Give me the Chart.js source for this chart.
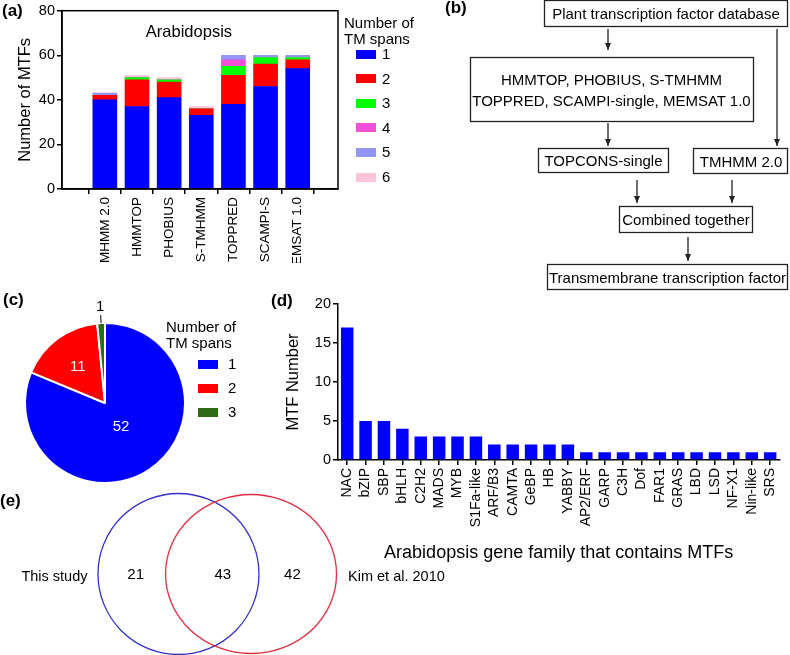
<!DOCTYPE html>
<html>
<head>
<meta charset="utf-8">
<script src="https://cdn.jsdelivr.net/npm/chart.js@4.4.0/dist/chart.umd.min.js"></script>
<style>
  body { margin: 0; background: #fff; font-family: "Liberation Sans", Arial, sans-serif; color: #000; }
  #fig { position: relative; width: 790px; height: 655px; overflow: hidden; }
  .abs { position: absolute; }
  .tag { position: absolute; font-weight: bold; font-size: 17px; line-height: 1; }
  .ltitle { position: absolute; font-size: 15px; line-height: 16px; white-space: nowrap; }
  .sw { position: absolute; width: 20px; height: 9px; }
  .lab { position: absolute; font-size: 15px; line-height: 1; }
</style>
</head>
<body>
<div id="fig">
  <canvas id="chartA" class="abs" width="345" height="263" style="left:0;top:0"></canvas>
  <canvas id="chartD" class="abs" width="510" height="280" style="left:280px;top:290px"></canvas>
  <canvas id="chartC" class="abs" width="180" height="200" style="left:15px;top:295px"></canvas>
  <canvas id="chartE" class="abs" width="460" height="174" style="left:0;top:487px"></canvas>

  <svg class="abs" style="left:0;top:0" width="790" height="300" font-family="Liberation Sans, Arial, sans-serif" font-size="15">
    <defs>
      <marker id="ah" markerWidth="8" markerHeight="8" refX="7" refY="4" orient="auto" markerUnits="userSpaceOnUse">
        <path d="M0,1 L7,4 L0,7 Z" fill="#222"/>
      </marker>
    </defs>
    <g fill="none" stroke="#222" stroke-width="1.3">
      <rect x="544.5" y="0.5" width="243" height="26"/>
      <rect x="470.5" y="57.5" width="283" height="64"/>
      <rect x="538.5" y="148.5" width="130" height="24"/>
      <rect x="693.5" y="148.5" width="94" height="25"/>
      <rect x="619.5" y="206.5" width="133" height="26"/>
      <rect x="547.5" y="264.5" width="240" height="25"/>
    </g>
    <g stroke="#222" stroke-width="1.3" marker-end="url(#ah)">
      <line x1="608" y1="29" x2="608" y2="50"/>
      <line x1="777" y1="29" x2="777" y2="146"/>
      <line x1="608" y1="123" x2="608" y2="146"/>
      <line x1="637" y1="180" x2="637" y2="203"/>
      <line x1="732" y1="180" x2="732" y2="203"/>
      <line x1="688" y1="237" x2="688" y2="261"/>
    </g>
    <g text-anchor="middle" dominant-baseline="central" fill="#000">
      <text x="666" y="13.5">Plant transcription factor database</text>
      <text x="611.5" y="79">HMMTOP, PHOBIUS, S-TMHMM</text>
      <text x="611.5" y="100.5">TOPPRED, SCAMPI-single, MEMSAT 1.0</text>
      <text x="603.5" y="160.5">TOPCONS-single</text>
      <text x="741" y="161">TMHMM 2.0</text>
      <text x="686" y="219.5">Combined together</text>
      <text x="667.5" y="277">Transmembrane transcription factor</text>
    </g>
  </svg>

  <div class="tag" style="left:2px;top:2px">(a)</div>
  <div class="tag" style="left:445px;top:-1px">(b)</div>
  <div class="tag" style="left:3px;top:291px">(c)</div>
  <div class="tag" style="left:271px;top:292px">(d)</div>
  <div class="tag" style="left:0;top:492px">(e)</div>

  <div class="ltitle" style="left:344px;top:15px">Number of<br>TM spans</div>
  <div class="ltitle" style="left:166px;top:319px">Number of<br>TM spans</div>
</div>

<script>
Chart.defaults.font.family = '"Liberation Sans", Arial, sans-serif';
Chart.defaults.color = '#000';
Chart.defaults.animation = false;
Chart.defaults.events = [];
Chart.defaults.plugins.legend.display = false;
Chart.defaults.plugins.tooltip.enabled = false;

// (a) predicted MTFs per tool, split by number of TM spans
let tools = ['TMHMM 2.0', 'HMMTOP', 'PHOBIUS', 'S-TMHMM', 'TOPPRED', 'SCAMPI-S', 'MEMSAT 1.0'];
let spanNames = ['1', '2', '3', '4', '5', '6'];
let span1 = [40, 37, 41, 33, 38, 46, 54];
let span2 = [2, 12, 7, 3, 13, 10, 4];
let span3 = [0, 1, 1, 0, 4, 3, 1];
let span4 = [0, 0, 0, 0, 3, 0, 0];
let span5 = [1, 0, 0, 0, 2, 1, 1];
let span6 = [0, 1, 1, 1, 0, 0, 0];
let spanColors = ['#0000FF', '#FF0000', '#00FF00', '#F050D8', '#9494F4', '#FFC4DC'];

// (c) pie
let pieSpans = ['1', '2', '3'];
let pieCounts = [52, 11, 1];
let pieColors = ['#0000FF', '#FF0000', '#2F6A17'];

// (d) gene families
let families = ['NAC', 'bZIP', 'SBP', 'bHLH', 'C2H2', 'MADS', 'MYB', 'S1Fa-like', 'ARF/B3', 'CAMTA', 'GeBP', 'HB', 'YABBY',
  'AP2/ERF', 'GARP', 'C3H', 'Dof', 'FAR1', 'GRAS', 'LBD', 'LSD', 'NF-X1', 'Nin-like', 'SRS'];
let familyCounts = [17, 5, 5, 4, 3, 3, 3, 3, 2, 2, 2, 2, 2, 1, 1, 1, 1, 1, 1, 1, 1, 1, 1, 1];

// (e) venn
let vennSets = ['This study', 'Kim et al. 2010'];
let vennCounts = [21, 43, 42];

let fig = document.getElementById('fig');

function addLegend(left, firstY, step, labelLeft, names, colors) {
  names.forEach((n, k) => {
    let sw = document.createElement('div');
    sw.className = 'sw';
    sw.style.left = left + 'px';
    sw.style.top = (firstY + k * step - 4.5) + 'px';
    sw.style.background = colors[k];
    fig.appendChild(sw);
    let lb = document.createElement('div');
    lb.className = 'lab';
    lb.style.left = labelLeft + 'px';
    lb.style.top = (firstY + k * step - 8) + 'px';
    lb.textContent = n;
    fig.appendChild(lb);
  });
}
addLegend(356, 54, 24.6, 382, spanNames, spanColors);
addLegend(198, 364, 24, 228, pieSpans, pieColors);

let axisLine = {color: '#000', width: 1.5};
let tickGrid = {drawOnChartArea: false, tickLength: 5, color: '#000', lineWidth: 1.5};

let frameA = {
  id: 'frameA',
  afterDraw(chart) {
    let c = chart.ctx, a = chart.chartArea;
    c.save();
    c.strokeStyle = '#000';
    c.lineWidth = 1.5;
    c.strokeRect(a.left, a.top, a.right - a.left, a.bottom - a.top);
    c.font = '16.5px "Liberation Sans", Arial, sans-serif';
    c.textAlign = 'center';
    c.textBaseline = 'middle';
    c.fillStyle = '#000';
    c.fillText('Arabidopsis', a.left + (a.right - a.left) * 0.46, a.top + 22);
    c.restore();
  }
};

let ctxA = document.getElementById('chartA').getContext('2d');
let chartA = new Chart(ctxA, {
  type: 'bar',
  data: {
    datasets: [span1, span2, span3, span4, span5, span6].map((vals, k) => ({
      label: spanNames[k],
      data: vals.map((v, i) => ({x: i, y: v})),
      backgroundColor: spanColors[k],
      borderWidth: 0,
      barThickness: 24
    }))
  },
  options: {
    responsive: false,
    layout: {padding: {top: 6, right: 7, left: 16, bottom: 0}},
    scales: {
      x: {
        type: 'linear',
        stacked: true,
        min: -0.72,
        max: 6.64,
        afterBuildTicks: (s) => { s.ticks = tools.map((t, i) => ({value: i})); },
        afterFit: (s) => { s.height = 74; },
        ticks: {
          callback: (v) => tools[v],
          minRotation: 90,
          maxRotation: 90,
          autoSkip: false,
          padding: 3,
          font: {size: 13.5}
        },
        grid: tickGrid,
        border: axisLine
      },
      y: {
        stacked: true,
        min: 0,
        max: 80,
        afterFit: (s) => { s.width = 46; },
        ticks: {stepSize: 20, padding: 2, font: {size: 14.5}},
        grid: tickGrid,
        border: axisLine,
        title: {display: true, text: 'Number of MTFs', font: {size: 16.5}, padding: 0}
      }
    }
  },
  plugins: [frameA]
});

// pie labels: value inside slices, "1" outside with a short leader line
let pieLabels = {
  id: 'pieLabels',
  afterDatasetsDraw(chart) {
    let c = chart.ctx;
    let meta = chart.getDatasetMeta(0);
    let radii = [0.36, 0.57, 1.2];
    let colors = ['#fff', '#fff', '#000'];
    c.save();
    c.font = '15px "Liberation Sans", Arial, sans-serif';
    c.textAlign = 'center';
    c.textBaseline = 'middle';
    meta.data.forEach((arc, i) => {
      let mid = (arc.startAngle + arc.endAngle) / 2;
      let r = arc.outerRadius;
      c.fillStyle = colors[i];
      c.fillText(pieCounts[i], arc.x + Math.cos(mid) * r * radii[i], arc.y + Math.sin(mid) * r * radii[i]);
      if (radii[i] > 1) {
        c.strokeStyle = '#000';
        c.lineWidth = 1;
        c.beginPath();
        c.moveTo(arc.x + Math.cos(mid) * r * 1.0, arc.y + Math.sin(mid) * r * 1.0);
        c.lineTo(arc.x + Math.cos(mid) * r * 1.1, arc.y + Math.sin(mid) * r * 1.1);
        c.stroke();
      }
    });
    c.restore();
  }
};

let ctxC = document.getElementById('chartC').getContext('2d');
let chartC = new Chart(ctxC, {
  type: 'pie',
  data: {
    labels: pieSpans,
    datasets: [{
      data: pieCounts,
      backgroundColor: pieColors,
      borderColor: '#fff',
      borderWidth: 2
    }]
  },
  options: {
    responsive: false,
    layout: {padding: {top: 27, bottom: 11, left: 9, right: 9}}
  },
  plugins: [pieLabels]
});

let ctxD = document.getElementById('chartD').getContext('2d');
let chartD = new Chart(ctxD, {
  type: 'bar',
  data: {
    labels: families,
    datasets: [{
      data: familyCounts,
      backgroundColor: '#0000FF',
      borderWidth: 0,
      categoryPercentage: 1,
      barPercentage: 0.68
    }]
  },
  options: {
    responsive: false,
    layout: {padding: {top: 14, right: 2, left: 4, bottom: 0}},
    scales: {
      x: {
        afterFit: (s) => { s.height = 110; },
        ticks: {minRotation: 90, maxRotation: 90, autoSkip: false, padding: 3, font: {size: 14}},
        grid: Object.assign({offset: false}, tickGrid),
        border: axisLine,
        title: {display: true, text: 'Arabidopsis gene family that contains MTFs', font: {size: 18}, padding: {top: 0, bottom: 6}}
      },
      y: {
        min: 0,
        max: 20,
        afterFit: (s) => { s.width = 54; },
        ticks: {stepSize: 5, padding: 2, font: {size: 14.5}},
        grid: tickGrid,
        border: axisLine,
        title: {display: true, text: 'MTF Number', font: {size: 16.5}, padding: 0}
      }
    }
  }
});

// venn: two set outlines placed on a hidden linear scale, counts written in each region
let ell = document.createElement('canvas');
ell.width = 176;
ell.height = 164;
let ec = ell.getContext('2d');
ec.strokeStyle = '#E0283C';
ec.lineWidth = 1.3;
ec.beginPath();
ec.ellipse(88, 82, 85.5, 79.5, 0, 0, 2 * Math.PI);
ec.stroke();

let vennText = {
  id: 'vennText',
  afterDatasetsDraw(chart) {
    let c = chart.ctx, x = chart.scales.x, y = chart.scales.y;
    let cy = y.getPixelForValue(0);
    let spots = [-0.59, 0.61, 1.57];
    c.save();
    c.fillStyle = '#000';
    c.textBaseline = 'middle';
    c.font = '15px "Liberation Sans", Arial, sans-serif';
    c.textAlign = 'center';
    vennCounts.forEach((n, i) => c.fillText(n, x.getPixelForValue(spots[i]), cy + 1));
    c.font = '14.5px "Liberation Sans", Arial, sans-serif';
    c.textAlign = 'right';
    c.fillText(vennSets[0], x.getPixelForValue(0) - 91, cy + 3);
    c.textAlign = 'left';
    c.fillText(vennSets[1], x.getPixelForValue(1) + 97, cy + 3);
    c.restore();
  }
};

let ctxE = document.getElementById('chartE').getContext('2d');
let chartE = new Chart(ctxE, {
  type: 'scatter',
  data: {
    datasets: [{
      data: vennSets.map((s, i) => ({x: i, y: 0})),
      pointStyle: ['circle', ell],
      pointRadius: [80.5, 80],
      pointBorderColor: ['#3030C8', '#E0283C'],
      pointBorderWidth: 1.3,
      pointBackgroundColor: 'rgba(0,0,0,0)',
      clip: false
    }]
  },
  options: {
    responsive: false,
    layout: {padding: 0, autoPadding: false},
    scales: {
      x: {display: false, min: -2.46, max: 3.88},
      y: {display: false, min: -1, max: 1}
    }
  },
  plugins: [vennText]
});
</script>
</body>
</html>
